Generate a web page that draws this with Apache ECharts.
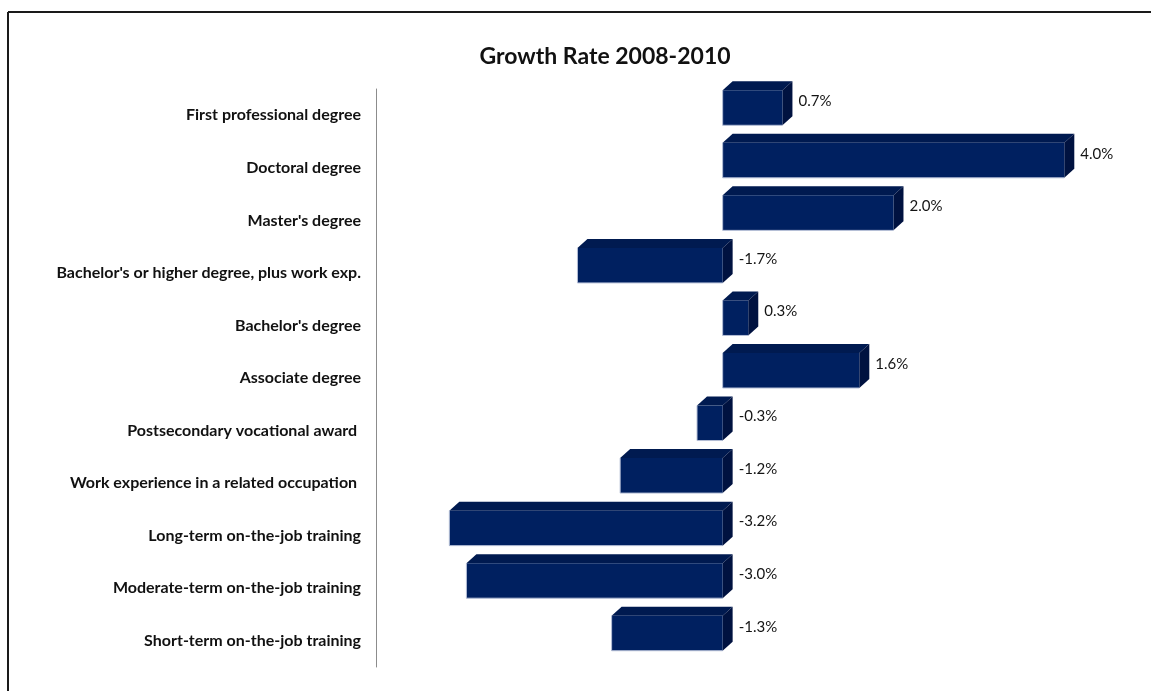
<!DOCTYPE html>
<html>
<head>
<meta charset="utf-8">
<title>Growth Rate 2008-2010</title>
<script src="https://cdn.jsdelivr.net/npm/echarts@6/dist/echarts.min.js"></script>
<style>
  html, body { margin: 0; padding: 0; background: #ffffff; }
  #chart { width: 1151px; height: 691px; }
</style>
</head>
<body>
<div id="chart"></div>
<script>
// Education / training categories, top to bottom
const categories = [
  'First professional degree',
  'Doctoral degree',
  "Master's degree",
  "Bachelor's or higher degree, plus work exp.",
  "Bachelor's degree",
  'Associate degree',
  'Postsecondary vocational award ',
  'Work experience in a related occupation ',
  'Long-term on-the-job training',
  'Moderate-term on-the-job training',
  'Short-term on-the-job training'
];

// Employment growth rate, percent
const growthRate = [0.7, 4.0, 2.0, -1.7, 0.3, 1.6, -0.3, -1.2, -3.2, -3.0, -1.3];

const FONT = 'Lato, "Open Sans", sans-serif';
const DEPTH_X = 10, DEPTH_Y = 9;

const chart = echarts.init(document.getElementById('chart'), null, { renderer: 'canvas' });

// Extruded bar: front face, top face and right side face
function renderBar(params, api) {
  const v = api.value(0);
  const idx = api.value(1);
  const pEnd = api.coord([v, idx]);
  const pZero = api.coord([0, idx]);
  const c = pZero[1];
  const x0 = Math.min(pEnd[0], pZero[0]);
  const x1 = Math.max(pEnd[0], pZero[0]);
  const yTop = c - 25;
  const h = 35;
  const yBot = yTop + h;
  return {
    type: 'group',
    children: [
      {
        type: 'polygon',
        shape: { points: [[x0, yTop], [x0 + DEPTH_X, yTop - DEPTH_Y], [x1 + DEPTH_X, yTop - DEPTH_Y], [x1, yTop]] },
        style: { fill: '#001a50' }
      },
      {
        type: 'polygon',
        shape: { points: [[x1, yTop], [x1 + DEPTH_X, yTop - DEPTH_Y], [x1 + DEPTH_X, yBot - DEPTH_Y], [x1, yBot]] },
        style: { fill: '#001240' }
      },
      {
        type: 'rect',
        shape: { x: x0, y: yTop, width: x1 - x0, height: h },
        style: { fill: '#002060' }
      },
      {
        type: 'polyline',
        shape: { points: [[x0, yTop], [x0, yBot], [x1, yBot]] },
        style: { stroke: '#b4bed6', lineWidth: 1, fill: null }
      },
      {
        type: 'text',
        style: {
          x: x1 + DEPTH_X + 6,
          y: c - 14,
          text: v.toFixed(1) + '%',
          font: '15px ' + FONT,
          fill: '#141414',
          verticalAlign: 'middle',
          align: 'left'
        }
      }
    ]
  };
}

const option = {
  backgroundColor: '#ffffff',
  animation: false,
  title: {
    text: 'Growth Rate 2008-2010',
    left: 600,
    top: 40,
    textAlign: 'center',
    textStyle: { fontFamily: FONT, fontWeight: 'bold', fontSize: 23, color: '#111111' }
  },
  grid: { left: 381, right: 44, top: 89, bottom: 24 },
  xAxis: {
    type: 'value',
    min: -4,
    max: 4.5,
    show: false
  },
  yAxis: {
    type: 'category',
    data: categories,
    inverse: true,
    offset: 5,
    axisLine: { show: true, onZero: false, lineStyle: { color: '#8c8c8c', width: 1 } },
    axisTick: { show: false },
    axisLabel: {
      margin: 15,
      fontFamily: FONT,
      fontWeight: 'bold',
      fontSize: 16,
      color: '#111111'
    }
  },
  series: [{
    type: 'custom',
    renderItem: renderBar,
    encode: { x: 0, y: 1 },
    data: growthRate.map((v, i) => [v, i])
  }],
  graphic: [
    { type: 'line', shape: { x1: 8, y1: 12, x2: 1151, y2: 12 }, style: { stroke: '#1a1a1a', lineWidth: 2 } },
    { type: 'line', shape: { x1: 8, y1: 12, x2: 8, y2: 691 }, style: { stroke: '#1a1a1a', lineWidth: 2 } }
  ]
};

chart.setOption(option);
</script>
</body>
</html>
